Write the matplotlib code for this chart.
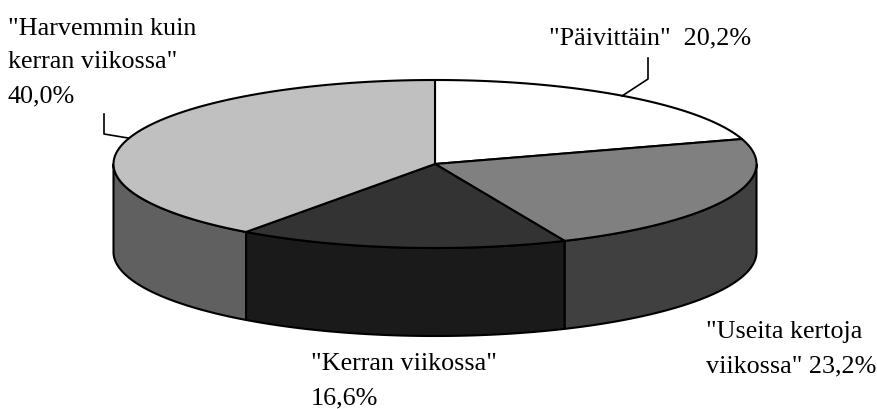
import numpy as np
from matplotlib import pyplot as plt

plt.rcParams['font.family'] = ['Liberation Serif', 'DejaVu Serif']

shares = [20.2, 23.2, 16.6, 40.0]
top_colors = ['#ffffff', '#808080', '#333333', '#c0c0c0']
side_colors = ['#a0a0a0', '#404040', '#1a1a1a', '#606060']
labels = ['"Päivittäin"  20,2%',
          '"Useita kertoja\nviikossa" 23,2%',
          '"Kerran viikossa"\n16,6%',
          '"Harvemmin kuin\nkerran viikossa"\n40,0%']
# baseline of the last line of each label
label_pos = [(549, 44), (706, 372), (311, 404), (8, 102)]

cx, cy = 435, 165
rx, ry = 321.5, 84
depth = 88
lw = 1.5


def rim(a0, a1):
    # angle in degrees clockwise from the top of the pie
    t = np.radians(np.linspace(a0, a1, 200))
    return cx + rx * np.sin(t), cy - ry * np.cos(t)


fig = plt.figure(figsize=(8.78, 4.10), dpi=100)
ax = fig.add_axes([0, 0, 1, 1])
ax.set_xlim(0, 878)
ax.set_ylim(410, 0)
ax.axis('off')

edges = np.concatenate([[0], np.cumsum(shares)]) / sum(shares) * 360

# side walls, only the front half of the rim shows
for i in range(len(shares)):
    a0 = max(edges[i], 90)
    a1 = min(edges[i + 1], 270)
    if a1 <= a0:
        continue
    x, y = rim(a0, a1)
    ax.fill(np.r_[x, x[::-1]], np.r_[y, y[::-1] + depth],
            facecolor=side_colors[i], edgecolor='black', lw=lw, joinstyle='round')

# top slices
for i in range(len(shares)):
    x, y = rim(edges[i], edges[i + 1])
    ax.fill(np.r_[cx, x], np.r_[cy, y],
            facecolor=top_colors[i], edgecolor='black', lw=lw, joinstyle='round')

# leader lines
ax.plot([648, 648, 622], [59, 80, 97], color='black', lw=1.2)
ax.plot([104, 104, 128], [115, 135, 139], color='black', lw=1.2)

for text, (x, y) in zip(labels, label_pos):
    ax.text(x, y, text, fontsize=18.8, color='black', va='baseline', ha='left', linespacing=1.68)

fig.savefig('out.png', dpi=100)
